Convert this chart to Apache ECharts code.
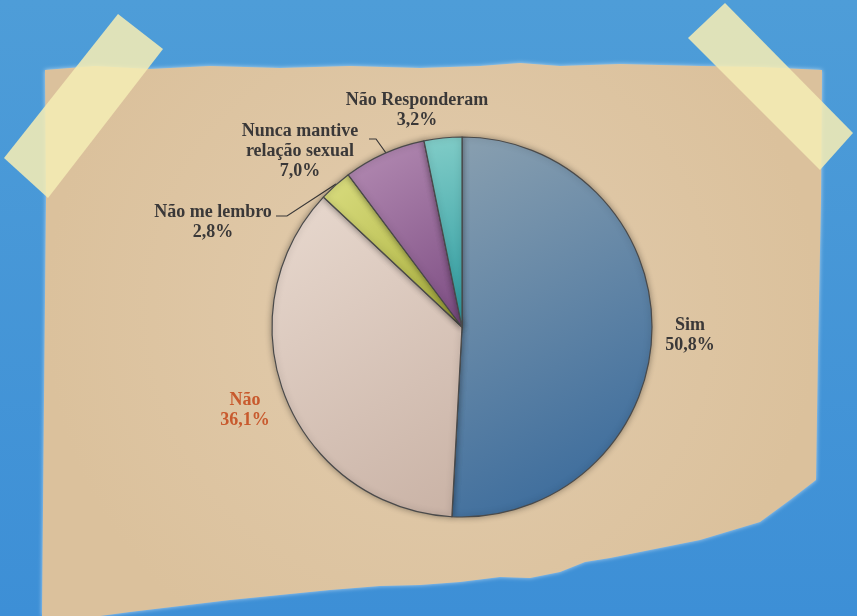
<!DOCTYPE html>
<html>
<head>
<meta charset="utf-8">
<script src="https://cdn.jsdelivr.net/npm/echarts@6/dist/echarts.min.js"></script>
<style>
  html, body { margin: 0; padding: 0; background: #4a9bd8; }
  #chart { width: 857px; height: 616px; }
</style>
</head>
<body>
<div id="chart"></div>
<script>
// Survey answers (percent)
const categories = ['Sim', 'Não', 'Não me lembro', 'Nunca mantive\nrelação sexual', 'Não Responderam'];
const values = [50.8, 36.1, 2.8, 7.0, 3.2];

// Slice shading: light / dark ends of each gradient
const sliceLight = ['#8aa0b0', '#e8d9cf', '#dadd80', '#b58db4', '#82cdc8'];
const sliceDark  = ['#33669a', '#c9b2a5', '#a8ae3a', '#7c4c82', '#2b999e'];
const labelColors = ['#3a3838', '#c85a2e', '#3a3838', '#3a3838', '#3a3838'];

// Label anchor points and leader lines per slice
const labelPos = [[690, 335], [245, 410], [213, 222], [300, 151], [417, 110]];
const leaderLines = [null, null,
  [[336, 184], [287, 216], [276, 216]],
  [[386, 153], [376, 139], [369, 139]],
  null];

const chart = echarts.init(document.getElementById('chart'), null, { renderer: 'canvas' });

const fmt = v => v.toFixed(1).replace('.', ',') + '%';

const data = categories.map((name, i) => ({
  name,
  value: values[i],
  itemStyle: {
    color: new echarts.graphic.LinearGradient(0, 0, 1, 1, [
      { offset: 0, color: sliceLight[i] },
      { offset: 1, color: sliceDark[i] }
    ])
  },
  label: { color: labelColors[i] },
  labelLine: { show: !!leaderLines[i] }
}));

// Paper sheet outline
const paper = [
  [45, 70], [95, 66], [150, 69], [210, 66], [280, 68], [350, 66], [420, 68], [480, 66],
  [520, 63], [560, 66], [620, 64], [700, 66], [760, 67], [822, 70],
  [821, 200], [818, 350], [816, 480], [790, 500], [760, 522], [700, 540], [650, 550],
  [610, 558], [585, 562], [560, 572], [530, 578], [500, 577], [460, 582], [420, 585],
  [380, 586], [330, 590], [280, 595], [230, 600], [180, 606], [130, 612], [100, 616],
  [42, 616], [44, 400], [46, 200]
];

const tapeFill = 'rgba(244, 236, 180, 0.88)';

chart.setOption({
  backgroundColor: {
    type: 'linear', x: 0, y: 0, x2: 0, y2: 1,
    colorStops: [{ offset: 0, color: '#4e9dd8' }, { offset: 1, color: '#3d8fd6' }]
  },
  animation: false,
  graphic: [
    {
      type: 'polygon', z: 0,
      shape: { points: paper },
      style: {
        fill: {
          type: 'radial', x: 0.5, y: 0.45, r: 0.7,
          colorStops: [{ offset: 0, color: '#e2ccae' }, { offset: 1, color: '#dbc19c' }]
        },
        shadowBlur: 4, shadowColor: 'rgba(255,255,255,0.6)'
      }
    },
    {
      type: 'polygon', z: 1,
      shape: { points: [[118, 14], [163, 49], [48, 198], [4, 158]] },
      style: { fill: tapeFill }
    },
    {
      type: 'polygon', z: 1,
      shape: { points: [[725, 3], [688, 38], [820, 170], [853, 133]] },
      style: { fill: tapeFill }
    }
  ],
  series: [{
    type: 'pie',
    z: 5,
    center: [462, 327],
    radius: [0, 190],
    startAngle: 90,
    clockwise: true,
    avoidLabelOverlap: false,
    itemStyle: {
      borderColor: '#4a4a4a', borderWidth: 1.2,
      shadowBlur: 6, shadowColor: 'rgba(0,0,0,0.35)'
    },
    label: {
      show: true,
      fontFamily: 'Liberation Serif',
      fontWeight: 'bold',
      fontSize: 18,
      lineHeight: 20,
      formatter: p => p.name + '\n' + fmt(p.value)
    },
    labelLine: { lineStyle: { color: '#3a3838', width: 1.2 } },
    labelLayout: p => ({
      x: labelPos[p.dataIndex][0],
      y: labelPos[p.dataIndex][1],
      align: 'center',
      verticalAlign: 'middle',
      labelLinePoints: leaderLines[p.dataIndex] || undefined
    }),
    emphasis: { disabled: true },
    data
  }]
});
</script>
</body>
</html>
